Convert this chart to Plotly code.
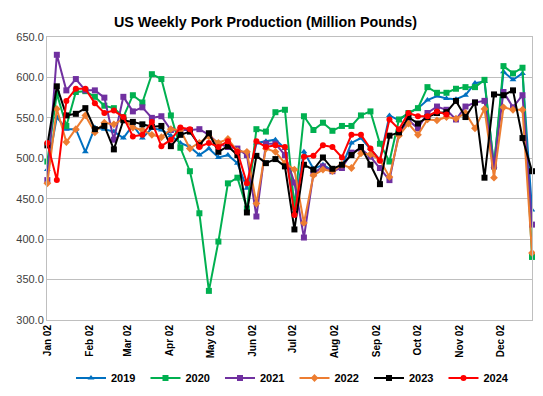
import plotly.graph_objects as go
import pandas as pd

weeks = pd.date_range("2019-01-02", periods=52, freq="7D")

p2019 = [486, 551, 536, 536, 508, 538, 536, 533, 525, 541, 525, 537, 535, 528, 519, 514, 504, 512, 501, 504,
         494, 463, 519, 521, 523, 512, 440, 508, 487, 492, 485, 490, 519, 525, 512, 498, 553, 547, 556, 562,
         572, 577, 574, 573, 578, 593, 595, 490, 607, 597, 605, 436]
p2020 = [496, 580, 540, 582, 583, 576, 565, 562, 551, 578, 569, 604, 598, 553, 513, 484, 432, 336, 397, 469,
         476, 438, 536, 533, 557, 560, 440, 552, 535, 544, 534, 540, 540, 553, 558, 518, 496, 548, 556, 562,
         588, 581, 581, 586, 588, 588, 597, 490, 614, 605, 612, 378]
p2021 = [473, 628, 584, 598, 584, 584, 575, 523, 576, 558, 563, 550, 552, 535, 535, 535, 536, 529, 518, 514,
         512, 504, 428, 518, 518, 504, 470, 402, 481, 490, 484, 488, 507, 512, 502, 488, 473, 531, 547, 537,
         556, 564, 560, 548, 564, 569, 571, 490, 582, 563, 578, 418]
p2022 = [469, 561, 520, 536, 553, 532, 544, 542, 549, 538, 535, 529, 526, 536, 535, 512, 519, 527, 519, 524,
         509, 508, 444, 512, 508, 494, 486, 420, 479, 486, 484, 492, 488, 506, 505, 498, 477, 528, 543, 529,
         548, 547, 551, 549, 556, 537, 561, 476, 563, 560, 560, 383]
p2023 = [516, 589, 553, 555, 562, 536, 540, 511, 547, 545, 542, 539, 540, 515, 529, 533, 516, 531, 508, 515,
         504, 433, 503, 494, 499, 490, 412, 492, 486, 501, 487, 492, 504, 514, 492, 468, 528, 532, 551, 543,
         551, 556, 557, 571, 551, 569, 476, 579, 578, 584, 525, 484]
p2024 = [519, 473, 571, 586, 586, 568, 556, 559, 551, 527, 529, 545, 515, 523, 538, 536, 514, 519, 514, 521,
         508, 469, 521, 514, 516, 514, 430, 502, 503, 516, 514, 501, 529, 529, 512, 497, 548, 536, 556, 552,
         552, 558, 554]

tick_dates = pd.date_range("2019-01-01", periods=12, freq="MS") + pd.Timedelta(days=1)
y_ticks = [300, 350, 400, 450, 500, 550, 600, 650]

series = [
    ("2019", p2019, "#0070C0", "triangle-up"),
    ("2020", p2020, "#00B050", "square"),
    ("2021", p2021, "#7030A0", "square"),
    ("2022", p2022, "#ED7D31", "diamond"),
    ("2023", p2023, "#000000", "square"),
    ("2024", p2024, "#FF0000", "circle"),
]

fig = go.Figure()
for name, vals, color, sym in series:
    fig.add_trace(go.Scatter(
        x=weeks[:len(vals)], y=vals, name=name, mode="lines+markers",
        line=dict(color=color, width=2),
        marker=dict(color=color, symbol=sym, size=6),
        cliponaxis=False,
    ))

# page body has an 8px default margin, so the figure is sized to fit the window
fig.update_layout(
    width=535, height=388,
    margin=dict(l=39, r=11, t=29, b=76),
    paper_bgcolor="white", plot_bgcolor="white",
    font=dict(family="Liberation Sans, Arial", size=10, color="#404040"),
    title=dict(text="<b>US Weekly Pork Production (Million Pounds)</b>",
               xref="container", x=0.4813, xanchor="center", y=0.964, yanchor="middle",
               font=dict(size=14.3, family="Liberation Sans, Arial", color="black")),
    showlegend=True,
    legend=dict(orientation="h", xref="container", x=0.5355, xanchor="center",
                yref="container", y=0.0464, yanchor="middle",
                bgcolor="rgba(0,0,0,0)",
                font=dict(size=11, color="black", weight="bold"), itemwidth=30,
                traceorder="normal", entrywidth=29.5, entrywidthmode="pixels"),
)
fig.update_xaxes(
    range=[weeks[0] - pd.Timedelta(hours=6), weeks[-1]],
    tickvals=tick_dates, tickformat="<b>%b %d</b>", tickangle=-90,
    showgrid=False, showline=True, linecolor="#BFBFBF", linewidth=1,
    mirror=True, ticks="", tickfont=dict(size=10, color="black"),
    automargin=False,
)
fig.update_yaxes(
    range=[300, 650], tickvals=y_ticks, tickformat=".1f",
    showgrid=True, gridcolor="#BFBFBF", gridwidth=1,
    showline=True, linecolor="#BFBFBF", linewidth=1, mirror=True,
    ticks="", tickfont=dict(size=11, color="#404040"), zeroline=False,
    automargin=False,
)

fig.write_html("out.html")
